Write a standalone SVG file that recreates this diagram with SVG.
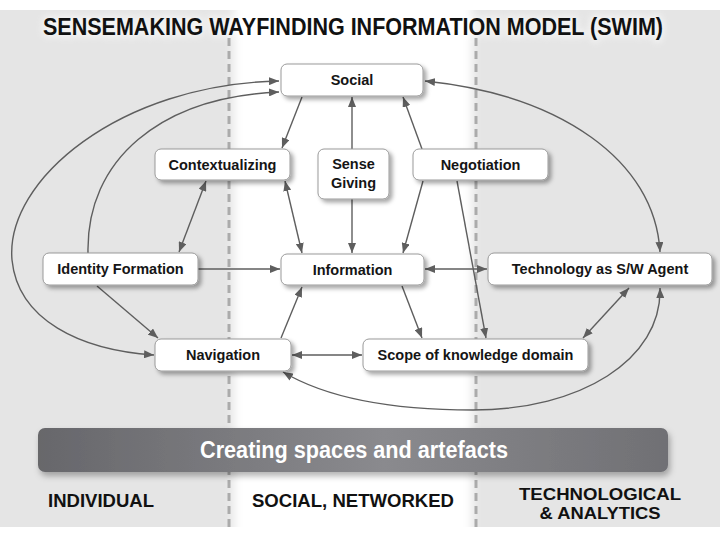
<svg xmlns="http://www.w3.org/2000/svg" width="720" height="540" viewBox="0 0 720 540">
<defs>
<style>
.node rect{fill:#fff;stroke:#9a9a9a;stroke-width:1;filter:url(#sh)}
.node text{font-family:"Liberation Sans",Arial,sans-serif;font-weight:bold;font-size:14.5px;fill:#151515;text-anchor:middle}
.e{fill:none;stroke:#5e5e5e;stroke-width:1.4}
.dash{stroke:#ababab;stroke-width:3;stroke-dasharray:8 5}
.lbl{font-family:"Liberation Sans",Arial,sans-serif;font-weight:bold;fill:#111;text-anchor:middle}
</style>
<filter id="sh" x="-20%" y="-30%" width="140%" height="170%">
<feDropShadow dx="3" dy="3" stdDeviation="2" flood-color="#000" flood-opacity="0.35"/>
</filter>
<filter id="blur" x="-20%" y="-5%" width="140%" height="110%">
<feGaussianBlur stdDeviation="5"/>
</filter>
<filter id="glow" x="-5%" y="-50%" width="110%" height="200%">
<feGaussianBlur stdDeviation="3"/>
</filter>
<filter id="barsh" x="-5%" y="-30%" width="110%" height="170%">
<feDropShadow dx="2" dy="4" stdDeviation="3" flood-color="#000" flood-opacity="0.3"/>
</filter>
<linearGradient id="barg" x1="0" y1="0" x2="1" y2="0">
<stop offset="0" stop-color="#67676b"/>
<stop offset="0.55" stop-color="#8a8a8e"/>
<stop offset="1" stop-color="#707074"/>
</linearGradient>
<marker id="ar" viewBox="0 0 10 8" markerUnits="userSpaceOnUse" markerWidth="10" markerHeight="8" refX="10" refY="4" orient="auto-start-reverse">
<path d="M0,0 L10,4 L0,8 z" fill="#5e5e5e"/>
</marker>
</defs>

<!-- background -->
<rect x="0" y="0" width="720" height="540" fill="#fff"/>
<rect x="0" y="10" width="720" height="517" fill="#e5e5e5"/>
<rect x="234" y="-20" width="238" height="580" fill="#fff" filter="url(#blur)"/>
<rect x="0" y="527" width="720" height="13" fill="#fff"/>

<!-- title -->
<g id="title">
<text x="353" y="35" class="lbl" font-size="23.5" stroke="#fff" stroke-width="5" stroke-linejoin="round" opacity="0.55" filter="url(#glow)" textLength="620" lengthAdjust="spacingAndGlyphs">SENSEMAKING WAYFINDING INFORMATION MODEL (SWIM)</text>
<text x="353" y="35" class="lbl" font-size="23.5" textLength="620" lengthAdjust="spacingAndGlyphs">SENSEMAKING WAYFINDING INFORMATION MODEL (SWIM)</text>
</g>

<!-- column dividers -->
<g id="dividers">
<line class="dash" x1="229" y1="38" x2="229" y2="527"/>
<line class="dash" x1="476" y1="38" x2="476" y2="527"/>
</g>

<!-- connectors -->
<g id="connectors">
<path class="e" d="M279,81 C120,84 5,180 12,260 C18,320 80,350 154,355" marker-start="url(#ar)" marker-end="url(#ar)"/>
<path class="e" d="M88,253 C86,160 160,97 279,92" marker-end="url(#ar)"/>
<path class="e" d="M425,81 C560,95 655,160 660,252" marker-start="url(#ar)" marker-end="url(#ar)"/>
<path class="e" d="M283,372 C330,400 400,410 473,410 C580,410 662,360 660,288" marker-start="url(#ar)" marker-end="url(#ar)"/>
<line class="e" x1="302" y1="97" x2="282" y2="148" marker-end="url(#ar)"/>
<line class="e" x1="352" y1="149" x2="352" y2="97" marker-end="url(#ar)"/>
<line class="e" x1="422" y1="149" x2="403" y2="97" marker-end="url(#ar)"/>
<line class="e" x1="206" y1="181" x2="179" y2="252" marker-start="url(#ar)" marker-end="url(#ar)"/>
<line class="e" x1="285" y1="181" x2="302" y2="253" marker-start="url(#ar)" marker-end="url(#ar)"/>
<line class="e" x1="352" y1="199" x2="352" y2="253" marker-end="url(#ar)"/>
<line class="e" x1="423" y1="181" x2="403" y2="253" marker-end="url(#ar)"/>
<line class="e" x1="457" y1="181" x2="486" y2="338" marker-end="url(#ar)"/>
<line class="e" x1="198" y1="269" x2="280" y2="269" marker-end="url(#ar)"/>
<line class="e" x1="425" y1="269" x2="487" y2="269" marker-start="url(#ar)" marker-end="url(#ar)"/>
<line class="e" x1="97" y1="286" x2="158" y2="338" marker-end="url(#ar)"/>
<line class="e" x1="281" y1="338" x2="302" y2="287" marker-end="url(#ar)"/>
<line class="e" x1="402" y1="286" x2="422" y2="338" marker-end="url(#ar)"/>
<line class="e" x1="292" y1="355" x2="362" y2="355" marker-start="url(#ar)" marker-end="url(#ar)"/>
<line class="e" x1="583" y1="338" x2="629" y2="288" marker-start="url(#ar)" marker-end="url(#ar)"/>
</g>

<!-- nodes -->
<g id="social" class="node"><rect x="281" y="64" width="142" height="32" rx="6"/><text x="352" y="85">Social</text></g>
<g id="contextualizing" class="node"><rect x="155" y="149" width="135" height="31" rx="6"/><text x="222.5" y="169.5">Contextualizing</text></g>
<g id="sense-giving" class="node"><rect x="318" y="149" width="71" height="50" rx="6"/><text x="353.5" y="169">Sense</text><text x="353.5" y="188">Giving</text></g>
<g id="negotiation" class="node"><rect x="413" y="149" width="135" height="31" rx="6"/><text x="480.5" y="169.5">Negotiation</text></g>
<g id="identity-formation" class="node"><rect x="43" y="253" width="155" height="32" rx="6"/><text x="120.5" y="274">Identity Formation</text></g>
<g id="information" class="node"><rect x="281" y="254" width="143" height="31" rx="6"/><text x="352.5" y="274.5">Information</text></g>
<g id="technology" class="node"><rect x="488" y="253" width="224" height="32" rx="6"/><text x="600" y="274">Technology as S/W Agent</text></g>
<g id="navigation" class="node"><rect x="155" y="339" width="136" height="32" rx="6"/><text x="223" y="360">Navigation</text></g>
<g id="scope" class="node"><rect x="363" y="339" width="225" height="32" rx="6"/><text x="475.5" y="360">Scope of knowledge domain</text></g>

<!-- bar -->
<g id="creating-spaces">
<rect x="38" y="428" width="630" height="44" rx="7" fill="url(#barg)" filter="url(#barsh)"/>
<text x="354" y="458" class="lbl" font-size="23" style="fill:#fff" textLength="308" lengthAdjust="spacingAndGlyphs">Creating spaces and artefacts</text>
</g>

<!-- column labels -->
<g id="labels">
<text x="101" y="507" class="lbl" font-size="19" textLength="106" lengthAdjust="spacingAndGlyphs">INDIVIDUAL</text>
<text x="353" y="507" class="lbl" font-size="19" textLength="202" lengthAdjust="spacingAndGlyphs">SOCIAL, NETWORKED</text>
<text x="600" y="500" class="lbl" font-size="16.5" textLength="162" lengthAdjust="spacingAndGlyphs">TECHNOLOGICAL</text>
<text x="600" y="519" class="lbl" font-size="16.5" textLength="121" lengthAdjust="spacingAndGlyphs">&amp; ANALYTICS</text>
</g>
</svg>
